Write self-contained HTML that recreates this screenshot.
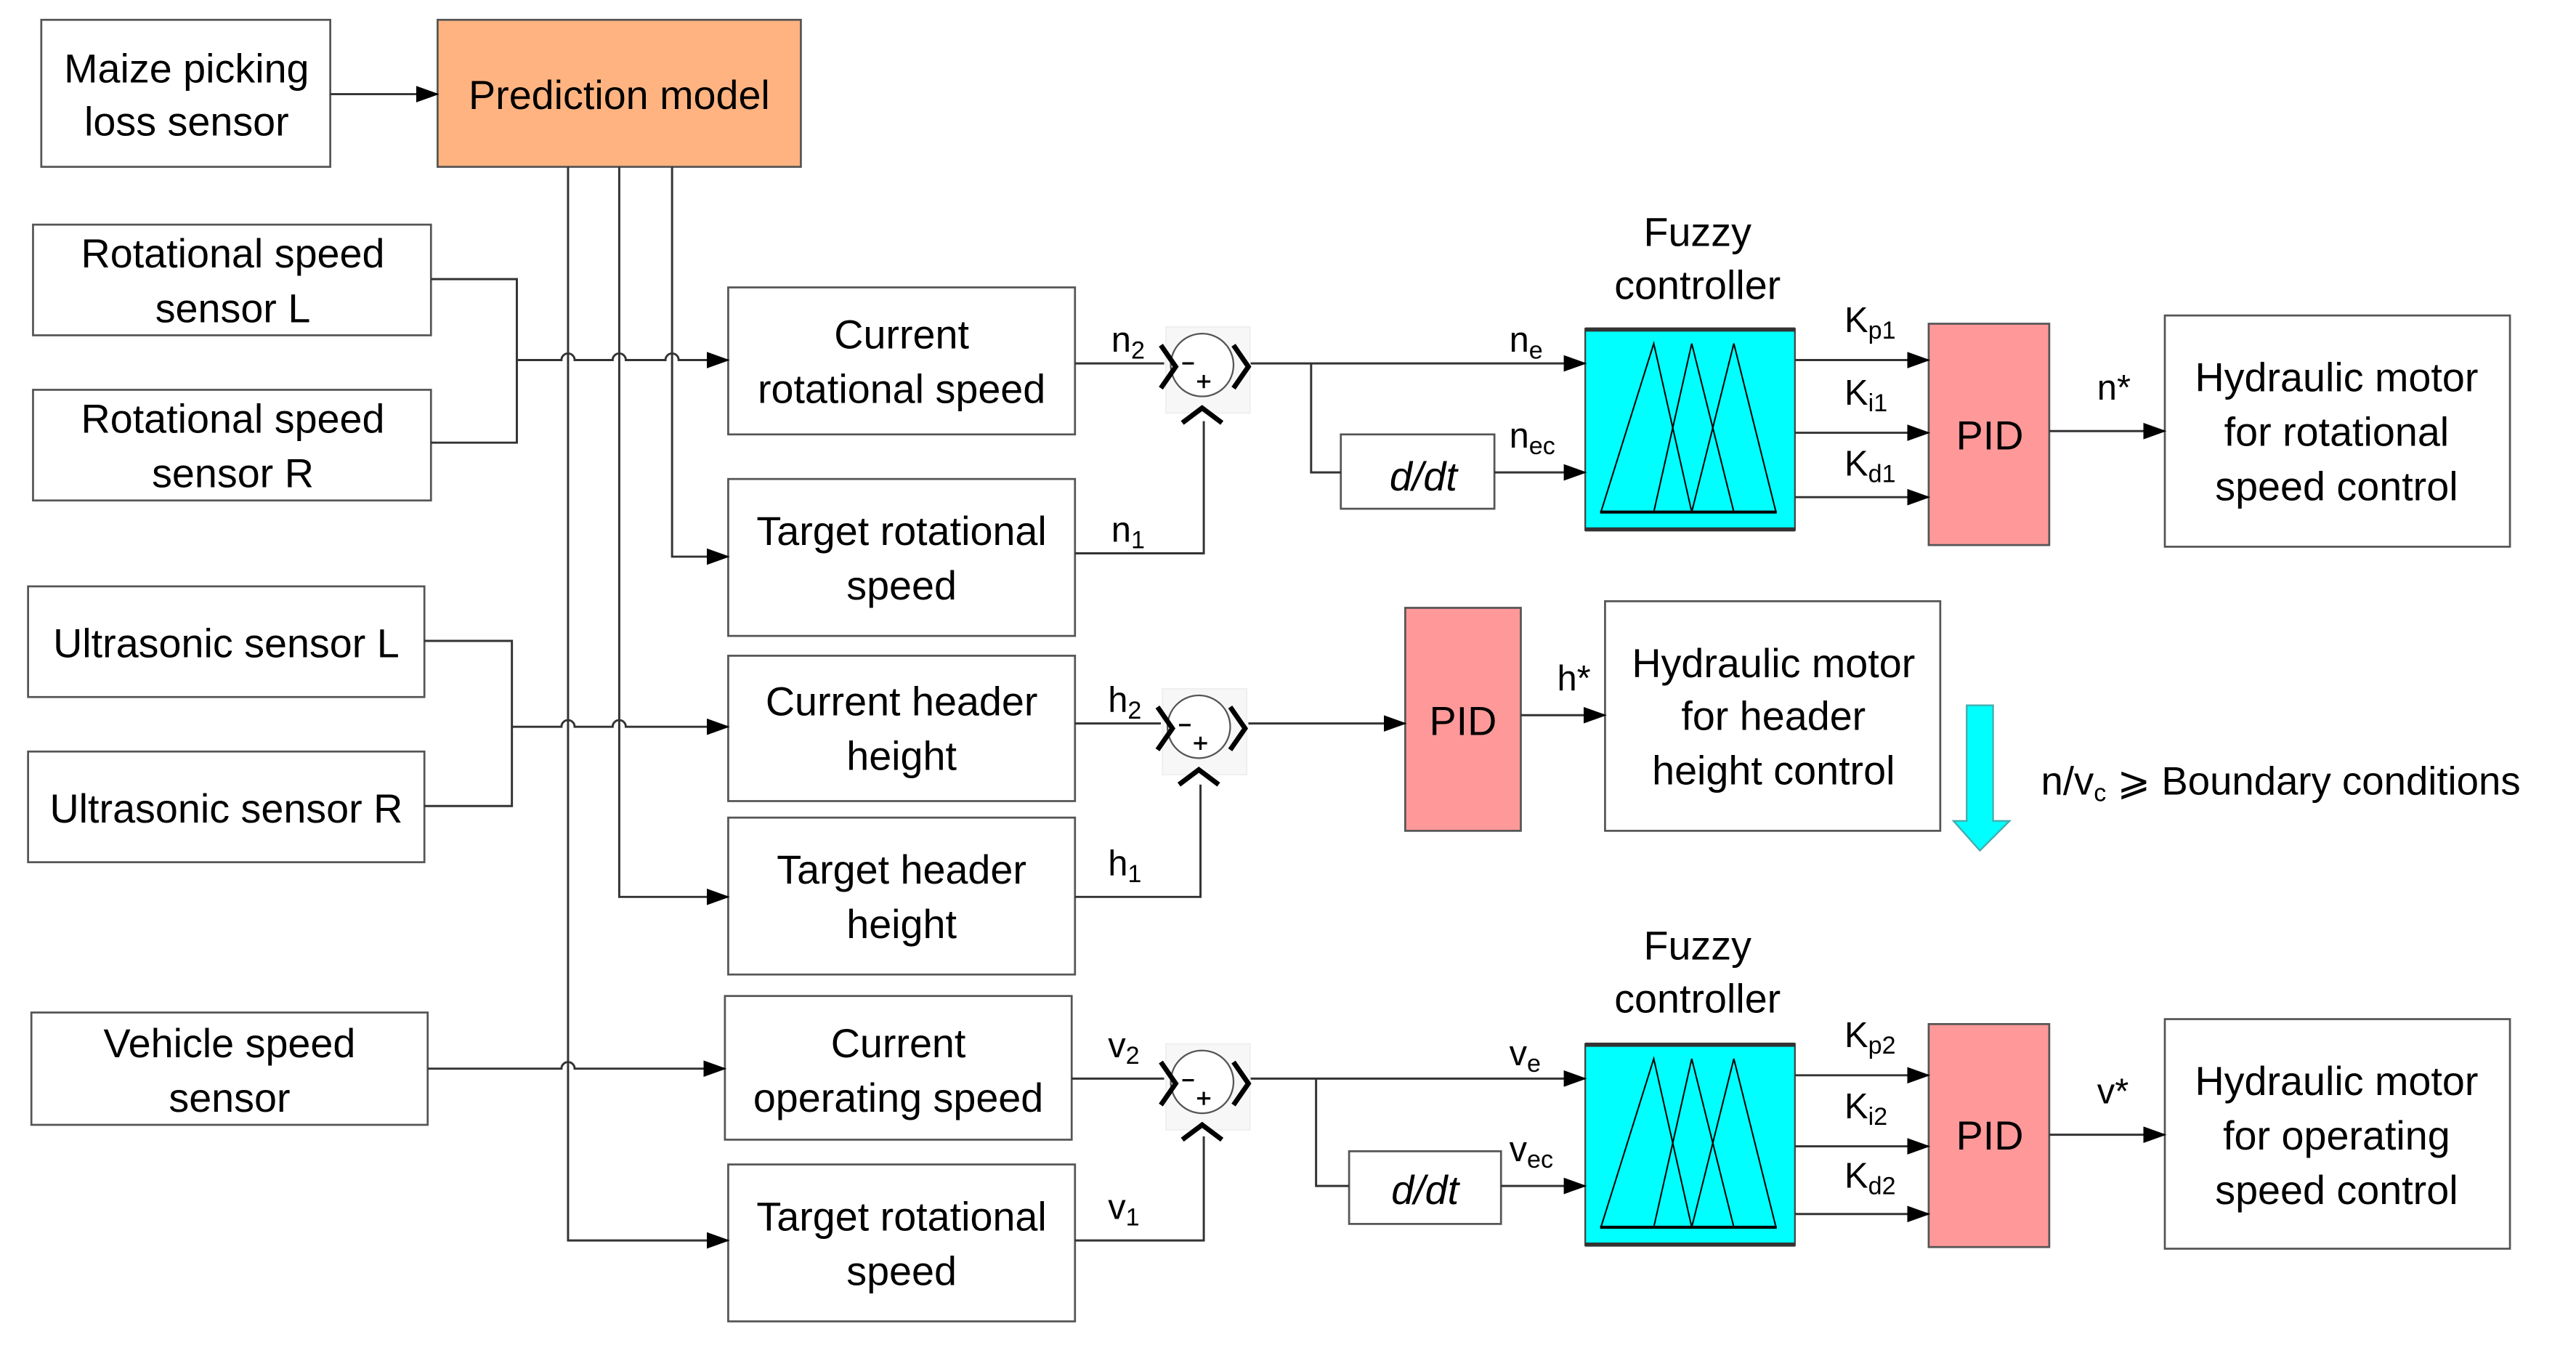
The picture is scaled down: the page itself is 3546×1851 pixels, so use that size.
<!DOCTYPE html>
<html><head><meta charset="utf-8"><style>
html,body{margin:0;padding:0;background:#fff;}
svg{display:block;}
text{font-family:"Liberation Sans",sans-serif;fill:#000;}
</style></head><body>
<svg width="3546" height="1851" viewBox="0 0 1560 814.3" preserveAspectRatio="none" xmlns="http://www.w3.org/2000/svg">
<defs>
<marker id="a" markerWidth="14" markerHeight="10" refX="13" refY="5" orient="auto" markerUnits="userSpaceOnUse">
<path d="M0,0 L14,5 L0,10 Z" fill="#000"/></marker>
<g id="sum">
<rect x="-22" y="-23" width="51" height="52" fill="#f7f7f7" stroke="#eee" stroke-width="0.8"/>
<circle cx="0" cy="0" r="19" fill="#fff" stroke="#555" stroke-width="1"/>
<path d="M-25,-12 L-16,1 L-25,14" fill="none" stroke="#000" stroke-width="3"/>
<path d="M19,-12 L28,1 L19,14" fill="none" stroke="#000" stroke-width="3"/>
<path d="M-12,35 L0,26 L12,35" fill="none" stroke="#000" stroke-width="3"/>
<line x1="-12" y1="-1" x2="-5" y2="-1" stroke="#000" stroke-width="1.4"/>
<line x1="-3" y1="10" x2="5" y2="10" stroke="#000" stroke-width="1.4"/>
<line x1="1" y1="6" x2="1" y2="14" stroke="#000" stroke-width="1.4"/>
</g>
<g id="fz">
<rect x="960" y="199" width="127" height="122" fill="#00ffff" stroke="#444" stroke-width="1"/>
<line x1="960" y1="199.5" x2="1087" y2="199.5" stroke="#333" stroke-width="2.5"/>
<line x1="960" y1="320.5" x2="1087" y2="320.5" stroke="#333" stroke-width="2.5"/>
<g fill="none" stroke="#000" stroke-width="0.9">
<path d="M969.5,310 L1001.5,208 L1024.5,310"/>
<path d="M1001.5,310 L1024.5,208 L1050,310"/>
<path d="M1024.5,310 L1050,208 L1075.5,310"/>
<line x1="969" y1="310" x2="1076" y2="310" stroke-width="1.8"/>
</g>
</g>
</defs>

<g fill="#fff" stroke="#555" stroke-width="1.2">
<rect x="25" y="12" width="175" height="89"/>
<rect x="265" y="12" width="220" height="89" fill="#ffb380"/>
<rect x="20" y="136" width="241" height="67"/>
<rect x="20" y="236" width="241" height="67"/>
<rect x="17" y="355" width="240" height="67"/>
<rect x="17" y="455" width="240" height="67"/>
<rect x="19" y="613" width="240" height="68"/>
<rect x="441" y="174" width="210" height="89"/>
<rect x="441" y="290" width="210" height="95"/>
<rect x="441" y="397" width="210" height="88"/>
<rect x="441" y="495" width="210" height="95"/>
<rect x="439" y="603" width="210" height="87"/>
<rect x="441" y="705" width="210" height="95"/>
<rect x="812" y="263" width="93" height="45"/>
<rect x="817" y="697" width="92" height="44"/>
<rect x="1168" y="196" width="73" height="134" fill="#ff9999"/>
<rect x="851" y="368" width="70" height="135" fill="#ff9999"/>
<rect x="1168" y="620" width="73" height="135" fill="#ff9999"/>
<rect x="1311" y="191" width="209" height="140"/>
<rect x="972" y="364" width="203" height="139"/>
<rect x="1311" y="617" width="209" height="139"/>
</g>

<use href="#fz"/>
<use href="#fz" transform="translate(0,433)"/>

<g fill="none" stroke="#333" stroke-width="1.3">
<line x1="200" y1="57" x2="265" y2="57" marker-end="url(#a)"/>
<path d="M344,101 V751 H441" marker-end="url(#a)"/>
<path d="M375,101 V543 H441" marker-end="url(#a)"/>
<path d="M407,101 V337 H441" marker-end="url(#a)"/>
<path d="M261,169 H313 V268 H261"/>
<path d="M313,218 H340 a4,4 0 0 1 8,0 H371 a4,4 0 0 1 8,0 H403 a4,4 0 0 1 8,0 H441" marker-end="url(#a)"/>
<path d="M257,388 H310 V488 H257"/>
<path d="M310,440 H340 a4,4 0 0 1 8,0 H371 a4,4 0 0 1 8,0 H441" marker-end="url(#a)"/>
<path d="M259,647 H340 a4,4 0 0 1 8,0 H439" marker-end="url(#a)"/>
<line x1="651" y1="220" x2="705" y2="220"/>
<path d="M651,335 H729 V255"/>
<line x1="757" y1="220" x2="960" y2="220" marker-end="url(#a)"/>
<path d="M794,220 V286 H812"/>
<line x1="905" y1="286" x2="960" y2="286" marker-end="url(#a)"/>
<line x1="1087" y1="218" x2="1168" y2="218" marker-end="url(#a)"/>
<line x1="1087" y1="262" x2="1168" y2="262" marker-end="url(#a)"/>
<line x1="1087" y1="301" x2="1168" y2="301" marker-end="url(#a)"/>
<line x1="1241" y1="261" x2="1311" y2="261" marker-end="url(#a)"/>
<line x1="651" y1="438" x2="703" y2="438"/>
<path d="M651,543 H727 V475"/>
<line x1="756" y1="438" x2="851" y2="438" marker-end="url(#a)"/>
<line x1="921" y1="433" x2="972" y2="433" marker-end="url(#a)"/>
<line x1="649" y1="653" x2="705" y2="653"/>
<path d="M651,751 H729 V688"/>
<line x1="757" y1="653" x2="960" y2="653" marker-end="url(#a)"/>
<path d="M797,653 V718 H817"/>
<line x1="909" y1="718" x2="960" y2="718" marker-end="url(#a)"/>
<line x1="1087" y1="651" x2="1168" y2="651" marker-end="url(#a)"/>
<line x1="1087" y1="694" x2="1168" y2="694" marker-end="url(#a)"/>
<line x1="1087" y1="735" x2="1168" y2="735" marker-end="url(#a)"/>
<line x1="1241" y1="687" x2="1311" y2="687" marker-end="url(#a)"/>
</g>

<use href="#sum" transform="translate(728,221)"/>
<use href="#sum" transform="translate(726,440)"/>
<use href="#sum" transform="translate(728,655)"/>

<path d="M1191,427 H1207 V497 H1217 L1199,515 L1183,497 H1191 Z" fill="#00ffff" stroke="#4aa" stroke-width="1"/>

<g font-size="24.5" text-anchor="middle">
<text x="113" y="50">Maize picking</text><text x="113" y="82">loss sensor</text>
<text x="375" y="66">Prediction model</text>
<text x="141" y="162">Rotational speed</text><text x="141" y="195">sensor L</text>
<text x="141" y="262">Rotational speed</text><text x="141" y="295">sensor R</text>
<text x="137" y="398">Ultrasonic sensor L</text>
<text x="137" y="498">Ultrasonic sensor R</text>
<text x="139" y="640">Vehicle speed</text><text x="139" y="673">sensor</text>
<text x="546" y="211">Current</text><text x="546" y="244">rotational speed</text>
<text x="546" y="330">Target rotational</text><text x="546" y="363">speed</text>
<text x="546" y="433">Current header</text><text x="546" y="466">height</text>
<text x="546" y="535">Target header</text><text x="546" y="568">height</text>
<text x="544" y="640">Current</text><text x="544" y="673">operating speed</text>
<text x="546" y="745">Target rotational</text><text x="546" y="778">speed</text>
<text x="1028" y="149">Fuzzy</text><text x="1028" y="181">controller</text>
<text x="1028" y="581">Fuzzy</text><text x="1028" y="613">controller</text>
<text x="1205" y="272">PID</text>
<text x="886" y="445">PID</text>
<text x="1205" y="696">PID</text>
<text x="1415" y="237">Hydraulic motor</text><text x="1415" y="270">for rotational</text><text x="1415" y="303">speed control</text>
<text x="1074" y="410">Hydraulic motor</text><text x="1074" y="442">for header</text><text x="1074" y="475">height control</text>
<text x="1415" y="663">Hydraulic motor</text><text x="1415" y="696">for operating</text><text x="1415" y="729">speed control</text>
<text x="862" y="297" font-style="italic">d/dt</text>
<text x="863" y="729" font-style="italic">d/dt</text>
</g>
<g font-size="21.5">
<text x="673" y="213">n<tspan font-size="15" dy="4">2</tspan></text>
<text x="673" y="328">n<tspan font-size="15" dy="4">1</tspan></text>
<text x="914" y="213">n<tspan font-size="15" dy="4">e</tspan></text>
<text x="914" y="271">n<tspan font-size="15" dy="4">ec</tspan></text>
<text x="1117" y="201">K<tspan font-size="15" dy="4">p1</tspan></text>
<text x="1117" y="245">K<tspan font-size="15" dy="4">i1</tspan></text>
<text x="1117" y="288">K<tspan font-size="15" dy="4">d1</tspan></text>
<text x="1270" y="242">n*</text>
<text x="671" y="431">h<tspan font-size="15" dy="4">2</tspan></text>
<text x="671" y="530">h<tspan font-size="15" dy="4">1</tspan></text>
<text x="943" y="418">h*</text>
<text x="671" y="640">v<tspan font-size="15" dy="4">2</tspan></text>
<text x="671" y="738">v<tspan font-size="15" dy="4">1</tspan></text>
<text x="914" y="645">v<tspan font-size="15" dy="4">e</tspan></text>
<text x="914" y="703">v<tspan font-size="15" dy="4">ec</tspan></text>
<text x="1117" y="634">K<tspan font-size="15" dy="4">p2</tspan></text>
<text x="1117" y="677">K<tspan font-size="15" dy="4">i2</tspan></text>
<text x="1117" y="719">K<tspan font-size="15" dy="4">d2</tspan></text>
<text x="1270" y="668">v*</text>
<text x="1236" y="481" font-size="24">n/v<tspan font-size="15" dy="4">c</tspan><tspan dy="-4"> ⩾ Boundary conditions</tspan></text>
</g>
</svg>
</body></html>
